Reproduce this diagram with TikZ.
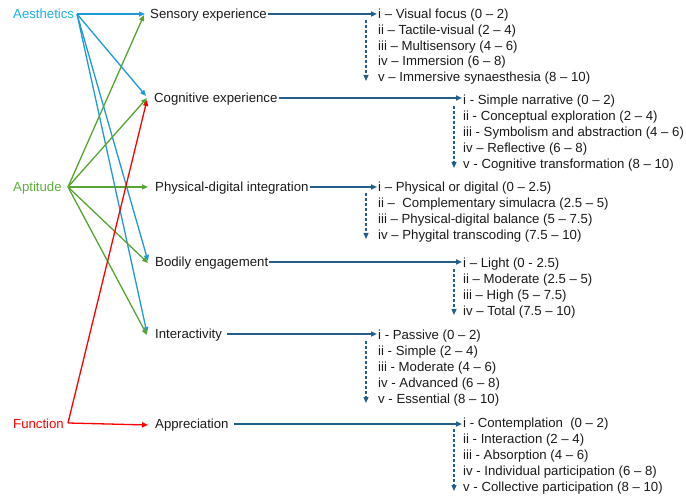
\documentclass[tikz,border=0pt]{standalone}
\usepackage{fontspec}
\setmainfont{Liberation Sans}
\usetikzlibrary{arrows.meta,calc}
\definecolor{aesc}{HTML}{1CB0EC}
\definecolor{aesl}{HTML}{1E9AD6}
\definecolor{aptc}{HTML}{5FAE3E}
\definecolor{aptl}{HTML}{56A532}
\definecolor{func}{HTML}{FF0000}
\definecolor{dblue}{HTML}{215F8A}
\definecolor{txt}{HTML}{1A1A1A}
\tikzset{
  txtbase/.style={anchor=west,inner sep=1pt,text height=9.5pt,text depth=0.5pt,font=\fontsize{13.2}{15.8}\selectfont},
  lbl/.style={txtbase,text=txt},
  item/.style={txtbase,text=txt},
  head/.style={txtbase},
  tip/.style={-{Triangle[length=6pt,width=5pt]}},
  blu/.style={tip,draw=aesl,line width=1.3pt},
  grn/.style={tip,draw=aptl,line width=1.3pt},
  rd/.style={tip,draw=func,line width=1.3pt},
  darr/.style={-{Triangle[length=6pt,width=5pt]},draw=dblue,line width=1.6pt},
  ddash/.style={-{Triangle[length=6pt,width=5pt]},draw=dblue,line width=1.2pt,dash pattern=on 3pt off 2pt}
}
\begin{document}
\begin{tikzpicture}[x=1pt,y=-1pt]
\useasboundingbox (0,0) rectangle (686,497);
% heads
\node[head,text=aesc] (aes) at (12,14) {Aesthetics};
\node[head,text=aptc] (apt) at (12,187) {Aptitude};
\node[head,text=func] (fun) at (12,424) {Function};
\coordinate (aS) at (77,14);
\coordinate (pS) at (68,187);
\coordinate (fS) at (68,423);
% labels
\node[lbl] (sen) at (149,14) {Sensory experience};
\node[lbl] (cog) at (153,98) {Cognitive experience};
\node[lbl] (phy) at (154,187) {Physical-digital integration};
\node[lbl] (bod) at (154,262) {Bodily engagement};
\node[lbl] (int) at (154,334) {Interactivity};
\node[lbl] (app) at (154,424) {Appreciation};
% targets
\coordinate (tSb) at (145,14);
\coordinate (tSg) at (144,15);
\coordinate (tCb) at (146,96);
\coordinate (tCg) at (147,98);
\coordinate (tCr) at (147,100);
\coordinate (tP) at (148,187);
\coordinate (tBb) at (148,261);
\coordinate (tBg) at (148,263);
\coordinate (tIb) at (147,333);
\coordinate (tIg) at (147,335);
\coordinate (tA) at (148,425);
% aesthetics arrows
\draw[blu] (aS) -- (tSb);
\draw[blu] (aS) -- (tCb);
\draw[blu] (aS) -- (tBb);
\draw[blu] (aS) -- (tIb);
% aptitude arrows
\draw[grn] (pS) -- (tSg);
\draw[grn] (pS) -- (tCg);
\draw[grn] (pS) -- (tP);
\draw[grn] (pS) -- (tBg);
\draw[grn] (pS) -- (tIg);
% function arrows
\draw[rd] (fS) -- (tCr);
\draw[rd] (fS) -- (tA);
% Sensory list
\node[item] (s1) at (377,14) {i – Visual focus (0 – 2)};
\node[item] (s2) at (377,30) {ii – Tactile-visual (2 – 4)};
\node[item] (s3) at (377,46) {iii – Multisensory (4 – 6)};
\node[item] (s4) at (377,61) {iv – Immersion (6 – 8)};
\node[item] (s5) at (377,77) {v – Immersive synaesthesia (8 – 10)};
\draw[darr] (sen.east) -- (s1.west);
\draw[ddash] ($(s1.west)+(-11,6)$) -- ($(s5.west)+(-11,4)$);
% Cognitive list
\node[item] (c1) at (462,100) {i - Simple narrative (0 – 2)};
\node[item] (c2) at (462,116) {ii - Conceptual exploration (2 – 4)};
\node[item] (c3) at (462,132) {iii - Symbolism and abstraction (4 – 6)};
\node[item] (c4) at (462,148) {iv – Reflective (6 – 8)};
\node[item] (c5) at (462,164) {v - Cognitive transformation (8 – 10)};
\draw[darr] (cog.east) -- (cog.east -| c1.west);
\draw[ddash] ($(c1.west)+(-8,6)$) -- ($(c5.west)+(-8,4)$);
% Physical list
\node[item] (p1) at (377,187) {i – Physical or digital (0 – 2.5)};
\node[item] (p2) at (377,203) {ii –\ \ Complementary simulacra (2.5 – 5)};
\node[item] (p3) at (377,219) {iii – Physical-digital balance (5 – 7.5)};
\node[item] (p4) at (377,235) {iv – Phygital transcoding (7.5 – 10)};
\draw[darr] (phy.east) -- (p1.west);
\draw[ddash] ($(p1.west)+(-11,6)$) -- ($(p4.west)+(-11,4)$);
% Bodily list
\node[item] (b1) at (462,263) {i – Light (0 - 2.5)};
\node[item] (b2) at (462,279) {ii – Moderate (2.5 – 5)};
\node[item] (b3) at (462,295) {iii – High (5 – 7.5)};
\node[item] (b4) at (462,311) {iv – Total (7.5 – 10)};
\draw[darr] (bod.east) -- (bod.east -| b1.west);
\draw[ddash] ($(b1.west)+(-8,6)$) -- ($(b4.west)+(-8,4)$);
% Interactivity list
\node[item] (i1) at (377,335) {i - Passive (0 – 2)};
\node[item] (i2) at (377,351) {ii - Simple (2 – 4)};
\node[item] (i3) at (377,367) {iii - Moderate (4 – 6)};
\node[item] (i4) at (377,383) {iv - Advanced (6 – 8)};
\node[item] (i5) at (377,399) {v - Essential (8 – 10)};
\draw[darr] ($(int.east)+(4,0)$) -- (int.east -| i1.west);
\draw[ddash] ($(i1.west)+(-11,6)$) -- ($(i5.west)+(-11,4)$);
% Appreciation list
\node[item] (a1) at (462,423) {i - Contemplation\ \ (0 – 2)};
\node[item] (a2) at (462,439) {ii - Interaction (2 – 4)};
\node[item] (a3) at (462,455) {iii - Absorption (4 – 6)};
\node[item] (a4) at (462,471) {iv - Individual participation (6 – 8)};
\node[item] (a5) at (462,487) {v - Collective participation (8 – 10)};
\draw[darr] ($(app.east)+(4,0)$) -- (app.east -| a1.west);
\draw[ddash] ($(a1.west)+(-8,6)$) -- ($(a5.west)+(-8,4)$);
\end{tikzpicture}
\end{document}
